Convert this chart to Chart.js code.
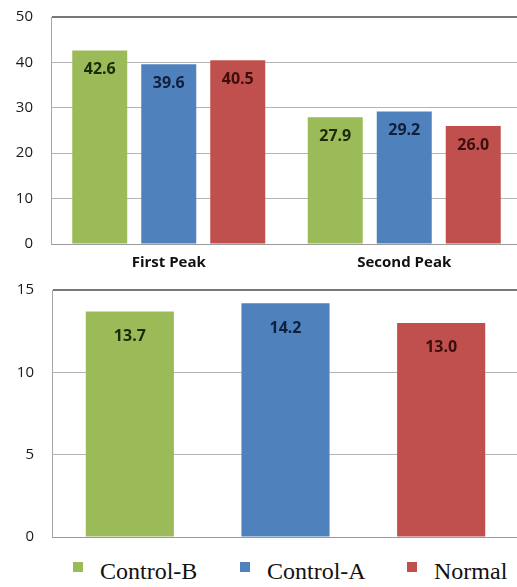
<!DOCTYPE html>
<html>
<head>
<meta charset="utf-8">
<script src="https://cdn.jsdelivr.net/npm/chart.js@4.4.1/dist/chart.umd.min.js"></script>
<style>
  html, body { margin: 0; padding: 0; background: #fff; overflow: hidden; width: 517px; height: 587px; }
  #peaks { position: absolute; left: 0; top: 0; }
  #totals { position: absolute; left: 0; top: 278px; }
  #legend {
    position: absolute; left: 73px; top: 559px; display: flex;
    font-family: "Liberation Serif", "Times New Roman", serif; font-size: 24px; line-height: 24px;
    color: #111; white-space: nowrap;
  }
  #legend .item { position: relative; width: 167px; padding-left: 27px; box-sizing: border-box; }
  #legend .swatch { position: absolute; left: 0; top: 3px; width: 10px; height: 10px; }
</style>
</head>
<body>
<canvas id="peaks" width="525" height="280"></canvas>
<canvas id="totals" width="525" height="272"></canvas>
<div id="legend"></div>
<script>
// Groups and series
const peakCategories = ['First Peak', 'Second Peak'];
const seriesNames = ['Control-B', 'Control-A', 'Normal'];

// Peak values per series (First Peak, Second Peak)
const controlBPeaks = [42.6, 27.9];
const controlAPeaks = [39.6, 29.2];
const normalPeaks = [40.5, 26.0];

// Single summary value per series (Control-B, Control-A, Normal)
const totalValues = [13.7, 14.2, 13.0];

// Axis ticks
const peakTicks = [0, 10, 20, 30, 40, 50];
const totalTicks = [0, 5, 10, 15];

// Styling
const fillColors = ['#9BBB59', '#4F81BD', '#C0504D'];
const labelColors = ['#1c2a0b', '#0f1f3c', '#3a0f0e'];
const gridColor = '#b4b4b4';
const frameColor = '#777777';

// Writes each bar's value inside the bar, just below its top edge
const valueLabels = {
  id: 'valueLabels',
  afterDatasetsDraw(chart, args, opts) {
    const ctx = chart.ctx;
    ctx.save();
    ctx.font = 'bold 16px "Open Sans"';
    ctx.textAlign = 'center';
    ctx.textBaseline = 'middle';
    chart.data.datasets.forEach((ds, i) => {
      chart.getDatasetMeta(i).data.forEach((bar, j) => {
        ctx.fillStyle = labelColors[i];
        ctx.fillText(ds.data[j].toFixed(1), bar.x, bar.y + opts.offset);
      });
    });
    ctx.restore();
  }
};

function yScale(ticks, axisWidth) {
  const top = ticks[ticks.length - 1];
  return {
    min: ticks[0],
    max: top,
    afterBuildTicks: s => { s.ticks = ticks.map(v => ({ value: v })); },
    afterFit: s => { s.width = axisWidth; },
    grid: {
      drawTicks: true,
      tickLength: 16,
      tickColor: 'rgba(0,0,0,0)',
      color: c => (c.tick && c.tick.value === top ? frameColor : gridColor),
      lineWidth: c => (c.tick && c.tick.value === top ? 2 : 1)
    },
    border: { color: '#a8a8a8', width: 1 },
    ticks: { padding: 2, color: '#1a1a1a', font: { family: 'Open Sans', size: 15 } }
  };
}

const peakSeries = [controlBPeaks, controlAPeaks, normalPeaks];

new Chart(document.getElementById('peaks'), {
  type: 'bar',
  data: {
    labels: peakCategories,
    datasets: seriesNames.map((name, i) => ({
      label: name,
      data: peakSeries[i],
      backgroundColor: fillColors[i],
      borderWidth: 0,
      categoryPercentage: 0.879,
      barPercentage: 0.797
    }))
  },
  options: {
    responsive: false,
    animation: false,
    layout: { padding: { top: 17, right: 3, left: 0, bottom: 0 } },
    plugins: { legend: { display: false }, tooltip: { enabled: false }, valueLabels: { offset: 19 } },
    scales: {
      x: {
        afterFit: s => { s.height = 36; },
        grid: { display: false, drawTicks: false },
        border: { color: '#9a9a9a', width: 1 },
        ticks: { padding: 10, color: '#111', font: { family: 'Open Sans', size: 15, weight: 'bold' } }
      },
      y: yScale(peakTicks, 51)
    }
  },
  plugins: [valueLabels]
});

new Chart(document.getElementById('totals'), {
  type: 'bar',
  data: {
    labels: [''],
    datasets: seriesNames.map((name, i) => ({
      label: name,
      data: [totalValues[i]],
      backgroundColor: fillColors[i],
      borderWidth: 0,
      categoryPercentage: 1,
      barPercentage: 0.566
    }))
  },
  options: {
    responsive: false,
    animation: false,
    layout: { padding: { top: 12, right: 6, left: 0, bottom: 13 } },
    plugins: { legend: { display: false }, tooltip: { enabled: false }, valueLabels: { offset: 25 } },
    scales: {
      x: {
        afterFit: s => { s.height = 0; },
        grid: { display: false, drawTicks: false },
        border: { color: '#9a9a9a', width: 1 },
        ticks: { display: false }
      },
      y: yScale(totalTicks, 52)
    }
  },
  plugins: [valueLabels]
});

// Legend shared by both charts
const legend = document.getElementById('legend');
seriesNames.forEach((name, i) => {
  const item = document.createElement('div');
  item.className = 'item';
  const sw = document.createElement('span');
  sw.className = 'swatch';
  sw.style.background = fillColors[i];
  item.appendChild(sw);
  item.appendChild(document.createTextNode(name));
  legend.appendChild(item);
});
</script>
</body>
</html>
